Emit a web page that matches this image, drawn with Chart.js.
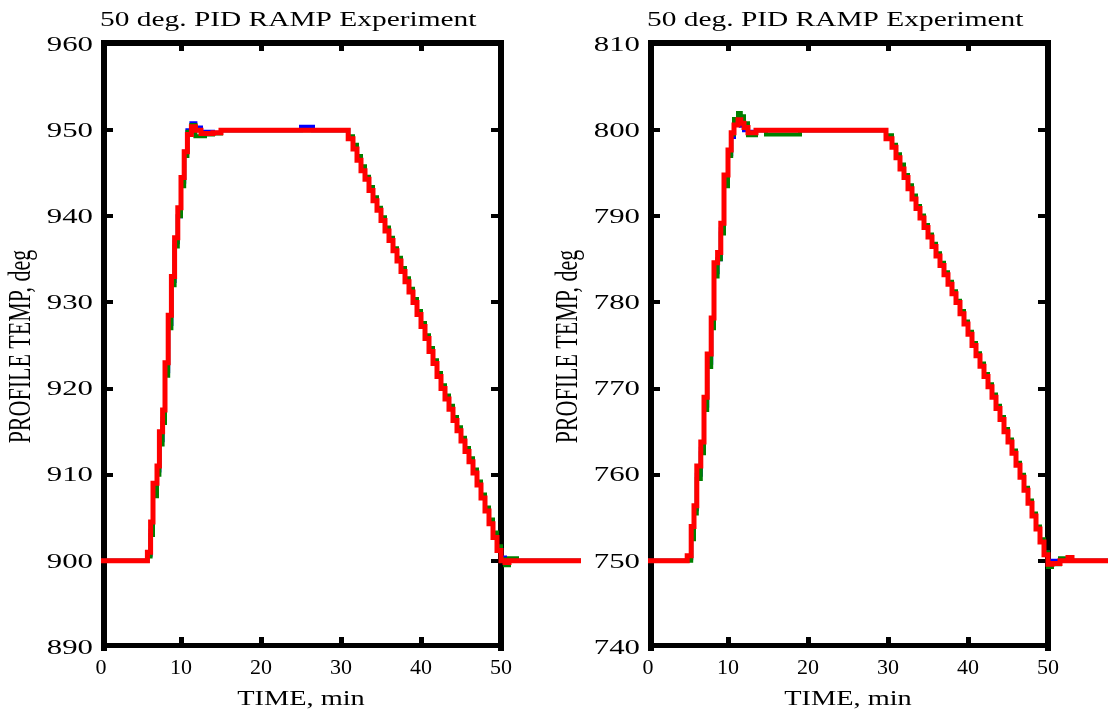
<!DOCTYPE html>
<html>
<head>
<meta charset="utf-8">
<script src="https://cdn.jsdelivr.net/npm/chart.js@4"></script>
<style>
  html, body { margin: 0; padding: 0; background: #ffffff; }
  body { width: 1108px; height: 711px; position: relative; overflow: hidden; }
  canvas { position: absolute; top: 0; }
</style>
</head>
<body>
<canvas id="c1" width="600" height="711" style="left:0px"></canvas>
<canvas id="c2" width="561" height="711" style="left:547px"></canvas>
<script>
// ---------- DATA ----------
const chartTitle = "50 deg. PID RAMP Experiment";
const xTitle = "TIME, min";
const yTitle = "PROFILE TEMP, deg";
const xTicks = [0, 10, 20, 30, 40, 50];
const leftYTicks = [890, 900, 910, 920, 930, 940, 950, 960];
const rightYTicks = [740, 750, 760, 770, 780, 790, 800, 810];

// Left panel (900 -> 950 -> 900)
const leftTime = [0, 5.8, 6.2, 6.5, 7.0, 7.3, 7.7, 8.0, 8.4, 8.8,
  9.2, 9.6, 10.0, 10.4, 10.8, 11.3, 11.8, 12.5, 13.0, 14.0,
  15.0, 15.7, 20.0, 25.0, 26.5, 27.5, 30.9, 31.5, 32.0, 32.5,
  33.0, 33.5, 34.0, 34.5, 35.0, 35.5, 36.0, 36.5, 37.0, 37.5,
  38.0, 38.5, 39.0, 39.5, 40.0, 40.5, 41.0, 41.5, 42.0, 42.5,
  43.0, 43.5, 44.0, 44.5, 45.0, 45.5, 46.0, 46.5, 47.0, 47.5,
  48.0, 48.5, 49.0, 49.5, 50.0, 50.5, 51.0, 52.0, 53.0, 55.0,
  60.0];
const leftRed = [900, 900, 901, 904.5, 909, 911, 915, 917.5, 923, 928.5,
  933, 937.5, 941, 944.5, 947.5, 949.5, 950.4, 950, 949.6, 949.6,
  949.7, 950, 950, 950, 950, 950, 950, 949, 947.8, 946.5,
  945.3, 944.3, 943, 941.8, 940.7, 939.5, 938.3, 937.2, 936, 934.8,
  933.6, 932.4, 931.2, 930, 928.6, 927.2, 925.8, 924.3, 922.9, 921.4,
  920, 918.8, 917.6, 916.3, 915.1, 913.9, 912.7, 911.5, 910.2, 908.8,
  907.3, 905.8, 904.3, 902.7, 901.2, 900, 899.8, 900, 900, 900,
  900];
const leftGreen = [900, 900, 900.5, 903, 907.5, 910, 913.5, 916, 921.5, 927,
  932, 936.5, 940, 943.5, 947, 949.8, 950.6, 949.3, 949.3, 949.5,
  949.6, 950, 950, 950, 950, 950, 950, 949.3, 948.3, 947,
  945.8, 944.6, 943.4, 942.2, 941, 939.9, 938.7, 937.5, 936.3, 935.2,
  934, 932.8, 931.6, 930.4, 929, 927.6, 926.2, 924.7, 923.3, 921.8,
  920.4, 919.2, 918, 916.7, 915.5, 914.3, 913.1, 911.9, 910.6, 909.2,
  907.7, 906.2, 904.8, 903.3, 901.7, 900.2, 899.5, 900.3, 900, 900,
  900];
const leftBlue = [900, 900, 900.7, 903.5, 908, 910.5, 914, 916.5, 922, 927.5,
  932.5, 937, 940, 944, 947.5, 950, 950.8, 950.3, 949.6, 949.8,
  949.7, 950, 950, 950, 950.4, 950, 950, 949.2, 948, 946.8,
  945.5, 944.5, 943.2, 942, 940.9, 939.7, 938.5, 937.4, 936.2, 935,
  933.8, 932.6, 931.4, 930.2, 928.8, 927.4, 926, 924.5, 923.1, 921.6,
  920.2, 919, 917.8, 916.5, 915.3, 914.1, 912.9, 911.7, 910.4, 909,
  907.5, 906, 904.6, 903, 901.5, 900.4, 900, 900, 900, 900,
  900];

// Right panel (750 -> 800 -> 750)
const rightTime = [0, 4.9, 5.4, 5.75, 6.1, 6.6, 7.0, 7.4, 7.9, 8.25,
  8.7, 9.1, 9.5, 10.0, 10.4, 10.75, 11.25, 11.6, 12.0, 12.5,
  13.5, 14.75, 19.0, 20.5, 25.0, 29.75, 30.5, 31.0, 31.5, 32.0,
  32.5, 33.0, 33.5, 34.0, 34.5, 35.0, 35.5, 36.0, 36.5, 37.0,
  37.5, 38.0, 38.5, 39.0, 39.5, 40.0, 40.5, 41.0, 41.5, 42.0,
  42.5, 43.0, 43.5, 44.0, 44.5, 45.0, 45.5, 46.0, 46.5, 47.0,
  47.5, 48.0, 48.5, 49.0, 49.5, 50.0, 50.5, 51.5, 52.5, 53.0,
  53.5, 55.0, 60.0];
const rightRed = [750, 750, 750.6, 754, 756.4, 761, 763.8, 769, 774, 778.2,
  784.6, 785.8, 789.2, 794.8, 797.7, 799.7, 800.6, 801.2, 800.8, 800.3,
  799.7, 800, 800, 800, 800, 800, 799, 798, 796.8, 795.5,
  794.5, 793.2, 792, 790.9, 789.8, 788.7, 787.6, 786.5, 785.4, 784.3,
  783.2, 782.1, 781, 780, 778.7, 777.5, 776.3, 775, 773.8, 772.6,
  771.4, 770.2, 769, 767.7, 766.4, 765, 763.8, 762.5, 761.1, 759.7,
  758.2, 756.7, 755.2, 753.7, 752.2, 750.7, 749.6, 749.7, 750, 750.4,
  750, 750, 750];
const rightGreen = [750, 750, 750, 752.5, 755.5, 759.5, 762.5, 767.5, 772.5, 777,
  783, 785, 788, 793.5, 797, 799.5, 801.3, 802, 801.6, 800.8,
  799.4, 800, 799.5, 800, 800, 800, 799.4, 798.3, 797.2, 796,
  794.8, 793.6, 792.4, 791.2, 790.1, 789, 787.9, 786.8, 785.7, 784.6,
  783.5, 782.4, 781.3, 780.2, 779, 777.8, 776.6, 775.3, 774.1, 772.9,
  771.7, 770.5, 769.3, 768, 766.7, 765.3, 764.1, 762.8, 761.4, 760,
  758.5, 757, 755.5, 754, 752.5, 751, 749.3, 749.6, 750.3, 750.4,
  750, 750, 750];
const rightBlue = [750, 750, 750.3, 753, 756, 760, 763, 768, 773, 777.5,
  783.5, 785, 788.5, 794, 797.2, 799.2, 800.8, 801.3, 800.5, 800,
  799.8, 800, 800, 800, 800, 800, 799.1, 798.1, 797, 795.7,
  794.6, 793.4, 792.2, 791, 789.9, 788.8, 787.7, 786.6, 785.5, 784.4,
  783.3, 782.2, 781.1, 780.1, 778.8, 777.6, 776.4, 775.1, 773.9, 772.7,
  771.5, 770.3, 769.1, 767.8, 766.5, 765.1, 763.9, 762.6, 761.2, 759.8,
  758.3, 756.8, 755.3, 753.8, 752.3, 751, 750, 750, 750, 750,
  750, 750, 750];

// ---------- RENDERING ----------
const FONT = "'Liberation Serif', 'Times New Roman', serif";

function stretchedText(ctx, txt, x, y, size, sx, align, rotate) {
  ctx.save();
  ctx.translate(x, y);
  ctx.scale(sx, 1);
  if (rotate) ctx.rotate(-Math.PI / 2);
  ctx.font = size + "px " + FONT;
  ctx.textAlign = align;
  ctx.textBaseline = "middle";
  ctx.fillStyle = "#000";
  ctx.fillText(txt, 0, 0);
  ctx.restore();
}

const framePlugin = {
  id: "frameAndText",
  beforeDatasetsDraw(chart) {
    const ctx = chart.ctx, a = chart.chartArea;
    const xs = chart.scales.x, ys = chart.scales.y;
    ctx.save();
    ctx.fillStyle = "#000";
    const w = a.right - a.left, h = a.bottom - a.top;
    ctx.fillRect(a.left, a.top - 4, 6, h + 8);          // left
    ctx.fillRect(a.right - 3, a.top - 4, 6, h + 8);     // right
    ctx.fillRect(a.left, a.top - 4, w + 3, 6);          // top
    ctx.fillRect(a.left, a.bottom - 4, w + 3, 5);       // bottom
    xs.ticks.forEach(t => {
      if (t.value <= xs.min || t.value >= xs.max) return;
      const px = Math.round(xs.getPixelForValue(t.value));
      ctx.fillRect(px - 2, a.bottom - 10, 5, 7);
      ctx.fillRect(px - 2, a.top + 1, 5, 6);
    });
    ys.ticks.forEach(t => {
      if (t.value <= ys.min || t.value >= ys.max) return;
      const py = Math.round(ys.getPixelForValue(t.value));
      ctx.fillRect(a.left + 5, py - 2, 7, 4);
      ctx.fillRect(a.right - 10, py - 2, 7, 4);
    });
    ctx.restore();
  },
  afterDraw(chart) {
    const ctx = chart.ctx, a = chart.chartArea;
    const xs = chart.scales.x, ys = chart.scales.y;
    const o = chart.options;
    ys.ticks.forEach(t => {
      const py = ys.getPixelForValue(t.value);
      stretchedText(ctx, String(t.label), a.left - 8, py + 1, 22, 1.4, "right", false);
    });
    xs.ticks.forEach(t => {
      const px = xs.getPixelForValue(t.value);
      stretchedText(ctx, String(t.label), px, 668, 22, 1.0, "center", false);
    });
    stretchedText(ctx, o.plugins.title.text, a.left - 1, 20, 21, 1.4, "left", false);
    stretchedText(ctx, o.scales.x.title.text, (a.left + a.right) / 2, 699, 21, 1.35, "center", false);
    stretchedText(ctx, o.scales.y.title.text, a.left - 79, (a.top + a.bottom) / 2 + 1, 22, 1.4, "center", true);
  }
};

function series(times, vals, color, width) {
  return {
    data: times.map((t, i) => ({ x: t, y: vals[i] })),
    borderColor: color,
    backgroundColor: color,
    borderWidth: width,
    pointRadius: 0,
    stepped: "after",
    fill: false,
    clip: false,
    borderJoinStyle: "miter",
    borderCapStyle: "butt"
  };
}

function makePanel(id, times, red, green, blue, yTicks, padRight) {
  const yMin = yTicks[0], yMax = yTicks[yTicks.length - 1];
  const xMin = xTicks[0], xMax = xTicks[xTicks.length - 1];
  return new Chart(document.getElementById(id), {
    type: "line",
    data: {
      datasets: [
        series(times, red, "#ff0000", 5),
        series(times, green, "#008000", 4),
        series(times, blue, "#0000ff", 4)
      ]
    },
    options: {
      responsive: false,
      animation: false,
      events: [],
      layout: { padding: { left: 0, top: 44, right: padRight, bottom: 0 } },
      plugins: {
        legend: { display: false },
        tooltip: { enabled: false },
        title: { display: false, text: chartTitle }
      },
      scales: {
        x: {
          type: "linear",
          // axis range fixed after data limits so the trace may run past the frame
          afterDataLimits: s => { s.min = xMin; s.max = xMax; },
          ticks: { stepSize: 10, display: false },
          grid: { display: false },
          border: { display: false },
          title: { display: false, text: xTitle },
          afterFit: s => { s.height = 64; }
        },
        y: {
          type: "linear",
          min: yMin, max: yMax,
          ticks: { stepSize: 10, display: false },
          grid: { display: false },
          border: { display: false },
          title: { display: false, text: yTitle },
          afterFit: s => { s.width = 101; }
        }
      }
    },
    plugins: [framePlugin]
  });
}

makePanel("c1", leftTime, leftRed, leftGreen, leftBlue, leftYTicks, 99);
makePanel("c2", rightTime, rightRed, rightGreen, rightBlue, rightYTicks, 60);
</script>
</body>
</html>
